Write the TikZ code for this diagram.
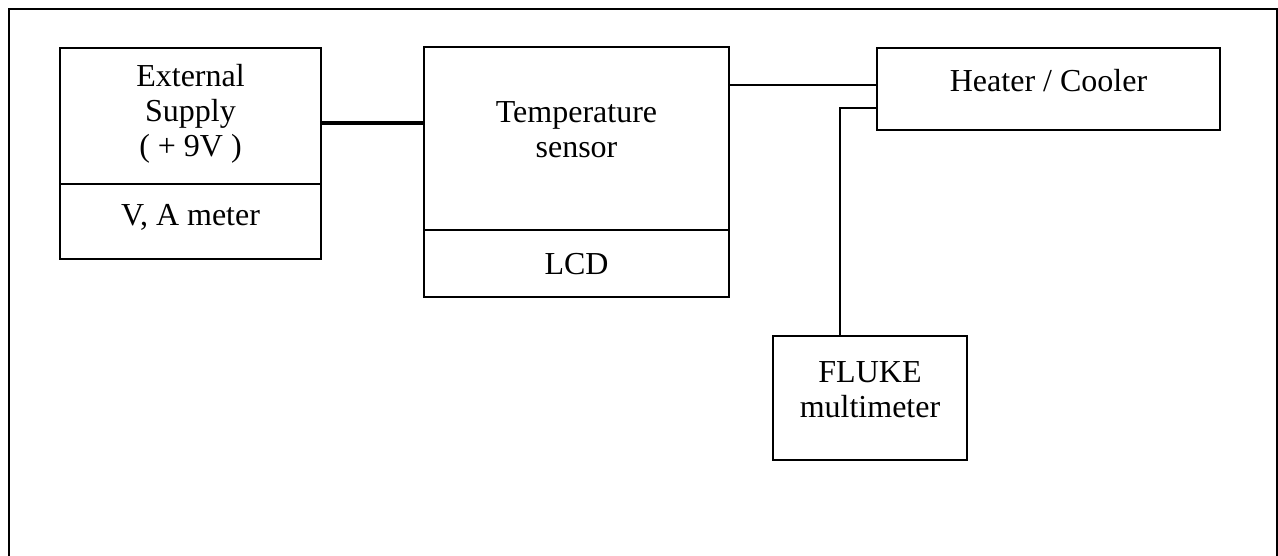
\documentclass[tikz,border=0pt]{standalone}
\usepackage{fontspec}
\setmainfont{Liberation Serif}
\begin{document}
\begin{tikzpicture}[x=1pt,y=-1pt,
  box/.style={draw, line width=2pt, inner sep=0pt, rectangle},
  lbl/.style={font=\fontsize{32}{35}\selectfont, align=center, inner sep=0pt},
  wire/.style={line width=1.8pt},
  thickwire/.style={line width=3.6pt}]
\useasboundingbox (0,0) rectangle (1278,556);
% outer frame (open at bottom)
\draw[line width=2pt] (9,560) -- (9,9) -- (1277,9) -- (1277,560);
% boxes
\node[box, minimum width=261pt, minimum height=211pt] (ext) at (190.5,153.5) {};
\node[box, minimum width=305pt, minimum height=250pt] (temp) at (576.5,172) {};
\node[box, minimum width=343pt, minimum height=82pt] (heat) at (1048.5,89) {};
\node[box, minimum width=194pt, minimum height=124pt] (fluke) at (870,398) {};
% dividers
\coordinate (extdiv) at (60,184);
\coordinate (tempdiv) at (424,230);
\draw[wire] (ext.west |- extdiv) -- (ext.east |- extdiv);
\draw[wire] (temp.west |- tempdiv) -- (temp.east |- tempdiv);
% labels
\node[lbl] (extlbl) at (190.5,114) {External\\Supply\\( + 9V )};
\node[lbl] (vam) at (190.5,217) {V, A meter};
\node[lbl] (templbl) at (576.5,130) {Temperature\\sensor};
\node[lbl] (lcd) at (576.5,264) {LCD};
\node[lbl] (heatlbl) at (1048.5,81) {Heater / Cooler};
\node[lbl] (flukelbl) at (870,390) {FLUKE\\multimeter};
% connectors
\coordinate (c1) at (0,123);
\draw[thickwire] (ext.east |- c1) -- (temp.west |- c1);
\coordinate (c2) at (0,85);
\draw[wire] (temp.east |- c2) -- (heat.west |- c2);
\coordinate (c3) at (840,108);
\draw[wire] (fluke.north -| c3) -- (c3) -- (heat.west |- c3);
\end{tikzpicture}
\end{document}
